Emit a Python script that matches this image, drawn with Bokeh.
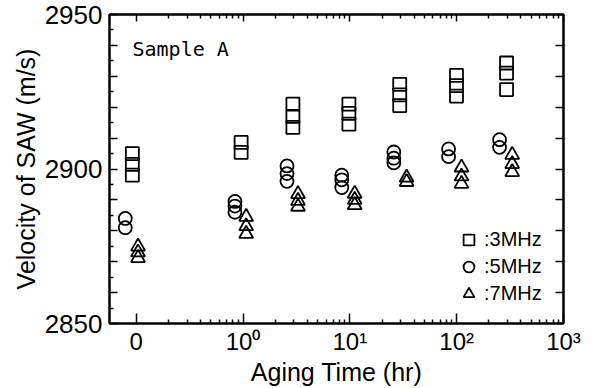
from bokeh.plotting import figure
from bokeh.models import (Range1d, FixedTicker, LogAxis, LinearAxis, Legend,
                          LegendItem, Label)
from bokeh.embed import file_html
from bokeh.resources import INLINE

# ---- data -------------------------------------------------------------
x_tick_values = [0.1, 1, 10, 100, 1000]
x_tick_labels = ["0", "10\u2070", "10\u00b9", "10\u00b2", "10\u00b3"]
x_minor_values = [m * d for d in (0.1, 1, 10, 100) for m in range(2, 10)]
y_tick_values = list(range(2850, 2951, 10))
y_tick_labels = {2850: "2850", 2900: "2900", 2950: "2950"}
y_minor_values = list(range(2855, 2950, 10))

# 3 MHz (squares)
hours_3mhz = [0.092, 0.092, 0.092, 0.96, 0.96, 2.93, 2.93, 2.93,
              9.8, 9.8, 9.8, 29.3, 29.3, 29.3, 99.6, 99.6, 99.6, 293, 293, 293]
vel_3mhz = [2905, 2901.5, 2898, 2908.6, 2905.4, 2921, 2917, 2913.5,
            2921, 2918, 2914.5, 2927.4, 2924, 2920.5, 2930.3, 2927, 2923.6,
            2934.3, 2931, 2925.7]

# 5 MHz (circles)
hours_5mhz = [0.079, 0.079, 0.84, 0.84, 0.84, 2.58, 2.58, 2.58,
              8.4, 8.4, 8.4, 25.8, 25.8, 25.8, 84, 84, 252, 252]
vel_5mhz = [2884, 2881, 2889.5, 2888, 2886, 2901, 2898.5, 2896,
            2898, 2896.5, 2894, 2905.5, 2903.5, 2902, 2906.5, 2904,
            2909.5, 2907]

# 7 MHz (triangles)
hours_7mhz = [0.104, 0.104, 0.104, 1.07, 1.07, 1.07, 3.27, 3.27, 3.27,
              11.1, 11.1, 11.1, 34, 34, 111, 111, 111, 331, 331, 331]
vel_7mhz = [2874.9, 2873, 2871.2, 2884.5, 2881.5, 2879, 2891.9, 2889.7, 2887.8,
            2892, 2890, 2888.3, 2897.2, 2895.8, 2900.5, 2897.6, 2895.2,
            2904.6, 2901.6, 2899]

FONT = "Liberation Sans"
INK = "black"

p = figure(width=597, height=388, x_axis_type="log",
           x_range=Range1d(10 ** -1.25, 1000), y_range=Range1d(2850, 2950),
           output_backend="svg", toolbar_location=None,
           min_border_left=109, min_border_right=34,
           min_border_top=14, min_border_bottom=61)
p.grid.visible = False
p.outline_line_color = INK
p.outline_line_width = 2
p.background_fill_color = "white"
p.border_fill_color = "white"

# bottom axis
xa = p.xaxis[0]
xa.ticker = FixedTicker(ticks=x_tick_values, minor_ticks=x_minor_values)
xa.major_label_overrides = {v: l for v, l in zip(x_tick_values, x_tick_labels)}
xa.major_tick_in = 10
xa.major_tick_out = 0
xa.minor_tick_in = 4
xa.minor_tick_out = 0
xa.major_tick_line_width = 1.5
xa.minor_tick_line_width = 1.5
xa.major_tick_line_color = INK
xa.minor_tick_line_color = INK
xa.axis_line_width = 2
xa.axis_line_color = INK
xa.major_label_text_font = FONT
xa.major_label_text_font_size = "24px"
xa.major_label_text_color = INK
xa.major_label_standoff = 4
xa.axis_label = "Aging Time (hr)"
xa.axis_label_text_font = FONT
xa.axis_label_text_font_size = "25px"
xa.axis_label_text_font_style = "normal"
xa.axis_label_text_color = INK
xa.axis_label_standoff = 0

# left axis
ya = p.yaxis[0]
ya.ticker = FixedTicker(ticks=y_tick_values, minor_ticks=y_minor_values)
ya.major_label_overrides = {v: y_tick_labels.get(v, "") for v in y_tick_values}
ya.major_tick_in = 8
ya.major_tick_out = 0
ya.minor_tick_in = 4
ya.minor_tick_out = 0
ya.major_tick_line_width = 1.5
ya.minor_tick_line_width = 1.5
ya.major_tick_line_color = INK
ya.minor_tick_line_color = INK
ya.axis_line_width = 2
ya.axis_line_color = INK
ya.major_label_text_font = FONT
ya.major_label_text_font_size = "26px"
ya.major_label_text_color = INK
ya.major_label_standoff = 7
ya.axis_label = "Velocity of SAW (m/s)"
ya.axis_label_text_font = FONT
ya.axis_label_text_font_size = "25px"
ya.axis_label_text_font_style = "normal"
ya.axis_label_text_color = INK
ya.axis_label_standoff = 2

# mirrored top / right axes (ticks only)
top = LogAxis(ticker=FixedTicker(ticks=x_tick_values, minor_ticks=x_minor_values),
              major_label_overrides={v: "" for v in x_tick_values},
              major_label_text_font_size="0px", major_label_standoff=0,
              major_tick_in=7, major_tick_out=0, minor_tick_in=4, minor_tick_out=0,
              major_tick_line_width=1.5, minor_tick_line_width=1.5,
              major_tick_line_color=INK, minor_tick_line_color=INK,
              axis_line_width=2, axis_line_color=INK)
p.add_layout(top, "above")
right = LinearAxis(ticker=FixedTicker(ticks=y_tick_values, minor_ticks=[]),
                   major_label_overrides={v: "" for v in y_tick_values},
                   major_label_text_font_size="0px", major_label_standoff=0,
                   major_tick_in=8, major_tick_out=0, minor_tick_in=0, minor_tick_out=0,
                   major_tick_line_width=1.5, major_tick_line_color=INK,
                   axis_line_width=2, axis_line_color=INK)
p.add_layout(right, "right")

style = dict(fill_alpha=0, line_color=INK, line_width=1.8)
r3 = p.scatter(hours_3mhz, vel_3mhz, marker="square", size=13, **style)
r5 = p.scatter(hours_5mhz, vel_5mhz, marker="circle", size=13, **style)
r7 = p.scatter(hours_7mhz, vel_7mhz, marker="triangle", size=14, **style)

legend = Legend(items=[LegendItem(label=":3MHz", renderers=[r3]),
                       LegendItem(label=":5MHz", renderers=[r5]),
                       LegendItem(label=":7MHz", renderers=[r7])],
                location=(346, 16), glyph_width=27, glyph_height=27,
                label_standoff=2, spacing=0, padding=0, margin=0,
                border_line_alpha=0, background_fill_alpha=0,
                label_text_font=FONT, label_text_font_size="20px",
                label_text_color=INK, label_height=27)
p.add_layout(legend)

p.add_layout(Label(x=23, y=275, x_units="screen", y_units="screen",
                   text="Sample A", text_font="DejaVu Sans Mono",
                   text_font_size="20px", text_baseline="middle",
                   text_color=INK))

open("out.html", "w").write(file_html(p, INLINE))
